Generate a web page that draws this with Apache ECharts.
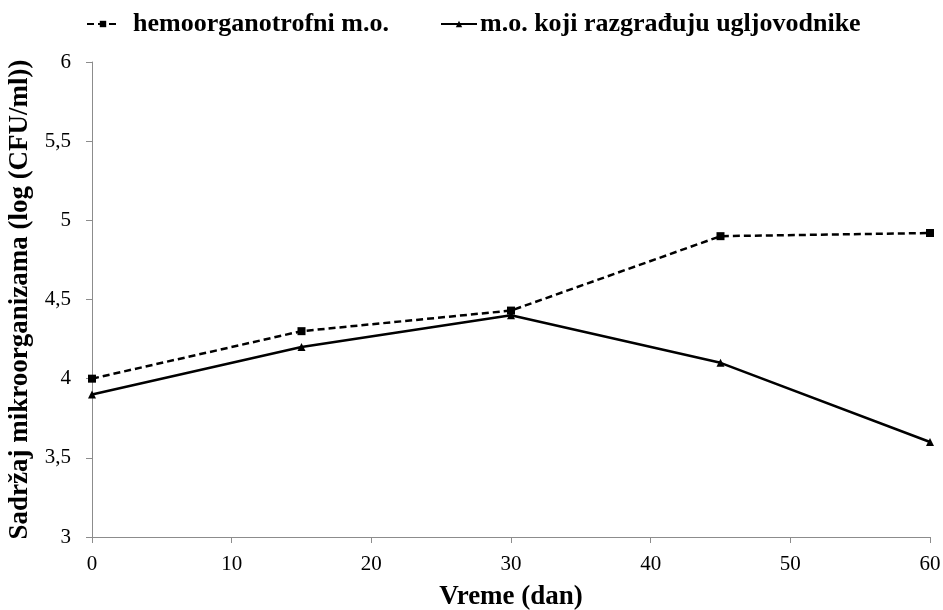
<!DOCTYPE html>
<html>
<head>
<meta charset="utf-8">
<script src="https://cdn.jsdelivr.net/npm/echarts@6/dist/echarts.min.js"></script>
<style>
  html, body { margin: 0; padding: 0; background: #fff; }
  #chart { width: 943px; height: 610px; }
</style>
</head>
<body>
<div id="chart"></div>
<script>
// Sampling days
const days = [0, 15, 30, 45, 60];
// log (CFU/ml) for each group of microorganisms
const hemoorganotrofni = [4.0, 4.3, 4.43, 4.9, 4.92];
const ugljovodnici = [3.9, 4.2, 4.4, 4.1, 3.6];
const seriesNames = ['hemoorganotrofni m.o.', 'm.o. koji razgrađuju ugljovodnike'];

const FONT = '"Liberation Serif", "Times New Roman", serif';
const AXIS_COLOR = '#8c8c8c';
const legendText = { fontFamily: FONT, fontSize: 26, fontWeight: 'bold', color: '#000' };

const chart = echarts.init(document.getElementById('chart'));
chart.setOption({
  backgroundColor: '#fff',
  animation: false,
  textStyle: { fontFamily: FONT },
  legend: [
    {
      top: 6, left: 81,
      itemWidth: 32, itemHeight: 8,
      textStyle: Object.assign({ padding: [0, 0, 0, 9] }, legendText),
      data: [seriesNames[0]]
    },
    {
      top: 6, left: 435,
      itemWidth: 36, itemHeight: 8,
      textStyle: Object.assign({ padding: [0, 0, 0, -2] }, legendText),
      data: [seriesNames[1]]
    }
  ],
  grid: { left: 92, right: 13, top: 62, bottom: 73, outerBoundsMode: 'none' },
  xAxis: {
    type: 'value',
    min: 0, max: 60, interval: 10,
    name: 'Vreme (dan)',
    nameLocation: 'middle',
    nameGap: 47,
    nameTextStyle: { fontFamily: FONT, fontSize: 27, fontWeight: 'bold', color: '#000' },
    axisLine: { show: true, lineStyle: { color: AXIS_COLOR, width: 1 } },
    axisTick: { show: true, length: 6, lineStyle: { color: AXIS_COLOR } },
    axisLabel: { fontFamily: FONT, fontSize: 21, color: '#000', margin: 17 },
    splitLine: { show: false }
  },
  yAxis: {
    type: 'value',
    min: 3, max: 6, interval: 0.5,
    name: 'Sadržaj mikroorganizama (log (CFU/ml))',
    nameLocation: 'middle',
    nameGap: 54,
    nameRotate: 90,
    nameTextStyle: { fontFamily: FONT, fontSize: 27, fontWeight: 'bold', color: '#000' },
    axisLine: { show: true, lineStyle: { color: AXIS_COLOR, width: 1 } },
    axisTick: { show: true, length: 6, lineStyle: { color: AXIS_COLOR } },
    axisLabel: {
      fontFamily: FONT, fontSize: 21, color: '#000', margin: 21,
      formatter: v => String(v).replace('.', ',')
    },
    splitLine: { show: false }
  },
  series: [
    {
      name: seriesNames[0],
      type: 'line',
      data: days.map((d, i) => [d, hemoorganotrofni[i]]),
      symbol: 'rect',
      symbolSize: 8,
      itemStyle: { color: '#000' },
      lineStyle: { color: '#000', width: 2.5, type: [7, 4] }
    },
    {
      name: seriesNames[1],
      type: 'line',
      data: days.map((d, i) => [d, ugljovodnici[i]]),
      symbol: 'triangle',
      symbolSize: 8,
      itemStyle: { color: '#000' },
      lineStyle: { color: '#000', width: 2.5, type: 'solid' }
    }
  ]
});
</script>
</body>
</html>
